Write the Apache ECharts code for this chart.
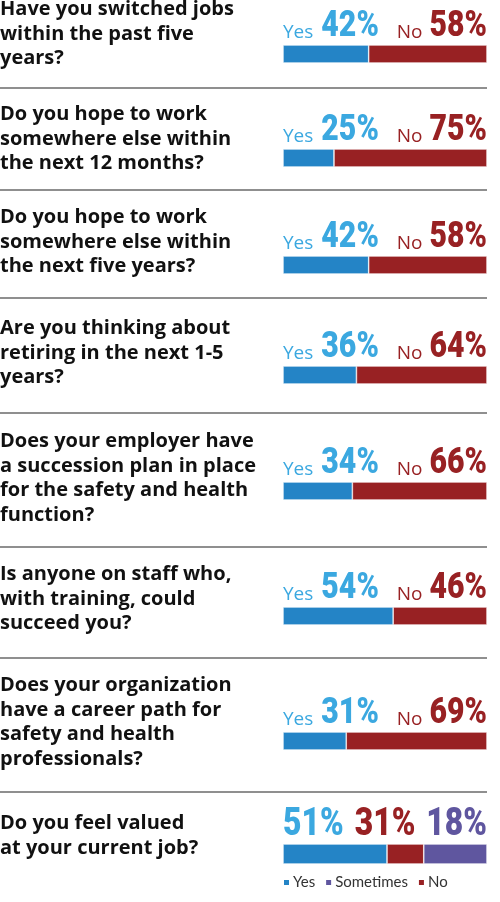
<!DOCTYPE html>
<html>
<head>
<meta charset="utf-8">
<script src="https://cdn.jsdelivr.net/npm/echarts@6/dist/echarts.min.js"></script>
<style>
  html, body { margin: 0; padding: 0; background: #fff; }
  #chart { width: 500px; height: 902px; }
</style>
</head>
<body>
<div id="chart"></div>
<script>
// survey data
const questions = [
  'Have you switched jobs\nwithin the past five\nyears?',
  'Do you hope to work\nsomewhere else within\nthe next 12 months?',
  'Do you hope to work\nsomewhere else within\nthe next five years?',
  'Are you thinking about\nretiring in the next 1-5\nyears?',
  'Does your employer have\na succession plan in place\nfor the safety and health\nfunction?',
  'Is anyone on staff who,\nwith training, could\nsucceed you?',
  'Does your organization\nhave a career path for\nsafety and health\nprofessionals?',
  'Do you feel valued\nat your current job?'
]
const yesValues = [42, 25, 42, 36, 34, 54, 31, 51]
const noValues = [58, 75, 58, 64, 66, 46, 69, 18]
const sometimesValues = [null, null, null, null, null, null, null, 31]
// the last row prints its numbers in this order
const lastRowLabels = ['51%', '31%', '18%']
const legendNames = ['Yes', 'Sometimes', 'No']

// layout (pixels)
const questionBaselines = [16, 121, 224, 335, 448, 581, 692, 830]
const barTops = [45, 149, 256, 366, 482, 607, 732, 844]
const barHeights = [18, 18, 18, 18, 18, 18, 18, 20]
const dividers = [88, 190, 298, 413, 547, 658, 792]
const barLeft = 283
const barRight = 487

const BLUE = '#2484c6'
const LIGHT_BLUE = '#3ba8e0'
const RED = '#982123'
const PURPLE = '#5f569f'

// condensed look for the big numbers
const NUM_SCALE = 0.84

const ctx = document.createElement('canvas').getContext('2d')
const measure = (text, font) => {
  ctx.font = font
  return ctx.measureText(text).width
}

const numFont = (size) => ({ fontFamily: 'Roboto', fontWeight: 900, fontSize: size })
const numWidth = (text, size) => measure(text, '900 ' + size + 'px Roboto') * NUM_SCALE
const wordFont = { fontFamily: 'Open Sans', fontWeight: 'normal', fontSize: 19 }

const grids = []
const xAxes = []
const yAxes = []
const series = []
const graphics = []

const bigNumber = (text, x, baseline, size, color, align) => ({
  type: 'text', x: x, y: baseline - 0.3 * size, scaleX: NUM_SCALE,
  style: { text: text, fill: color, ...numFont(size), align: align, verticalAlign: 'middle' }
})

questions.forEach((q, i) => {
  grids.push({ left: barLeft, width: barRight - barLeft, top: barTops[i], height: barHeights[i] })
  xAxes.push({ type: 'value', gridIndex: i, min: 0, max: 100, show: false })
  yAxes.push({ type: 'category', gridIndex: i, data: ['q'], show: false })

  const base = { type: 'bar', stack: 's' + i, xAxisIndex: i, yAxisIndex: i, barWidth: '100%', silent: true }
  const edge = { borderColor: '#fff', borderWidth: 0.6 }
  series.push({ ...base, name: 'Yes', data: [yesValues[i]], itemStyle: { color: BLUE, ...edge } })
  series.push({ ...base, name: 'No', data: [noValues[i]], itemStyle: { color: RED, ...edge } })
  if (sometimesValues[i] != null) {
    series.push({ ...base, name: 'Sometimes', data: [sometimesValues[i]], itemStyle: { color: PURPLE, ...edge } })
  }

  // question text
  graphics.push({
    type: 'text', x: 0, y: questionBaselines[i] - 18.5,
    style: {
      text: q, fill: '#111', fontFamily: 'Open Sans', fontWeight: 'bold', fontSize: 20,
      lineHeight: 24.5, align: 'left', verticalAlign: 'top'
    }
  })

  const baseline = barTops[i] - 7
  if (sometimesValues[i] == null) {
    const yesTxt = yesValues[i] + '%'
    const noTxt = noValues[i] + '%'
    const yesW = measure('Yes', 'normal 19px "Open Sans"')
    const noValW = numWidth(noTxt, 36)
    const midSmall = baseline - 0.3 * 19
    graphics.push({ type: 'text', x: barLeft, y: midSmall,
      style: { text: 'Yes', fill: LIGHT_BLUE, ...wordFont, align: 'left', verticalAlign: 'middle' } })
    graphics.push(bigNumber(yesTxt, barLeft + yesW + 8, baseline, 36, LIGHT_BLUE, 'left'))
    graphics.push(bigNumber(noTxt, barRight, baseline, 36, RED, 'right'))
    graphics.push({ type: 'text', x: barRight - noValW - 7, y: midSmall,
      style: { text: 'No', fill: RED, ...wordFont, align: 'right', verticalAlign: 'middle' } })
  } else {
    const colors = [LIGHT_BLUE, RED, PURPLE]
    const widths = lastRowLabels.map(t => numWidth(t, 38))
    const gap = (barRight - barLeft - widths.reduce((a, b) => a + b, 0)) / (lastRowLabels.length - 1)
    let x = barLeft
    lastRowLabels.forEach((t, k) => {
      graphics.push(bigNumber(t, x, baseline, 38, colors[k], 'left'))
      x += widths[k] + gap
    })
  }
})

dividers.forEach(y => {
  graphics.push({
    type: 'line', shape: { x1: 0, y1: y, x2: barRight, y2: y },
    style: { stroke: '#6a6a6a', lineWidth: 1.5 }
  })
})

const option = {
  animation: false,
  grid: grids,
  xAxis: xAxes,
  yAxis: yAxes,
  legend: {
    data: legendNames,
    left: barLeft - 1,
    top: 875,
    icon: 'rect',
    itemWidth: 7,
    itemHeight: 7,
    itemGap: 9,
    padding: 0,
    selectedMode: false,
    textStyle: { fontFamily: 'Lato', fontSize: 15, color: '#333', padding: [0, 0, 0, -2] }
  },
  graphic: graphics,
  series: series
}

const chart = echarts.init(document.getElementById('chart'))
chart.setOption(option)
window.addEventListener('resize', function () {
  chart && chart.resize()
})
</script>
</body>
</html>
